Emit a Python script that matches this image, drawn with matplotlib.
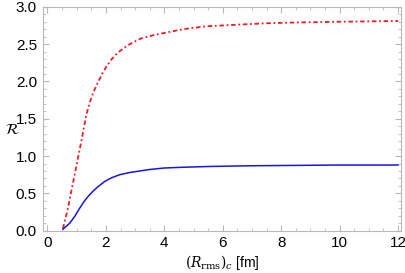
import numpy as np
import matplotlib
matplotlib.use('Agg')
import matplotlib.pyplot as plt
from matplotlib.ticker import MultipleLocator

# Valores
r_rojo = [0.53, 0.62, 0.70, 0.81, 0.93, 1.04, 1.16, 1.25, 1.33, 1.41, 1.50, 1.61, 1.73,
          1.87, 2.02, 2.2, 2.42, 2.62, 2.82, 3.16, 3.62, 4.13, 4.64,
          5.45, 6.48, 7.5, 8.5, 10.0, 12.0]
ratio_rojo = [0.03, 0.17, 0.30, 0.52, 0.75, 0.97, 1.20, 1.39, 1.55, 1.67, 1.78, 1.89, 1.99,
              2.10, 2.20, 2.30, 2.39, 2.45, 2.50, 2.57, 2.62, 2.66, 2.70,
              2.74, 2.76, 2.78, 2.79, 2.80, 2.81]

r_azul = [0.53, 0.76, 0.93, 1.10, 1.25, 1.39, 1.56, 1.73, 1.96, 2.2, 2.47, 2.82, 3.16, 3.5,
          4.0, 4.64, 5.5, 6.94, 8.5, 10.0, 12.0]
ratio_azul = [0.02, 0.10, 0.19, 0.30, 0.39, 0.46, 0.53, 0.59, 0.66, 0.71, 0.75, 0.78, 0.80,
              0.82, 0.84, 0.85, 0.86, 0.87, 0.875, 0.88, 0.88]

plt.rcParams['font.family'] = ['Liberation Sans', 'DejaVu Sans']
plt.rcParams['mathtext.fontset'] = 'dejavuserif'

fig, ax = plt.subplots(figsize=(4.05, 2.73), dpi=100)
fig.subplots_adjust(left=0.105, right=0.99, bottom=0.155, top=0.975)

ax.plot(r_rojo, ratio_rojo, color='#ee1c25', linestyle=(0, (2.5, 1.5, 1, 1.5)), linewidth=1.3)
ax.plot(r_azul, ratio_azul, color='#1414e6', linewidth=1.1)

ax.set_xlim(-0.17, 12.1)
ax.set_ylim(0, 3.0)
ax.xaxis.set_major_locator(MultipleLocator(2))
ax.xaxis.set_minor_locator(MultipleLocator(0.5))
ax.yaxis.set_major_locator(MultipleLocator(0.5))
ax.yaxis.set_minor_locator(MultipleLocator(0.1))
ax.yaxis.set_major_formatter(plt.FormatStrFormatter('%.1f'))

for s in ax.spines.values():
    s.set_color('#b8b8b8')
    s.set_linewidth(0.8)
ax.tick_params(which='both', direction='in', top=True, right=True, color='#b8b8b8',
               labelsize=11, labelcolor='black', pad=4)
ax.tick_params(which='major', length=4)
ax.tick_params(which='minor', length=2)

ax.set_xlabel(r'$(R_{\mathrm{rms}})_c$ [fm]', fontsize=10, labelpad=2)
ax.set_ylabel(r'$\mathcal{R}$', fontsize=11, rotation=0, labelpad=6)
ax.yaxis.set_label_coords(-0.085, 0.42)

plt.savefig('out.png', dpi=100)
